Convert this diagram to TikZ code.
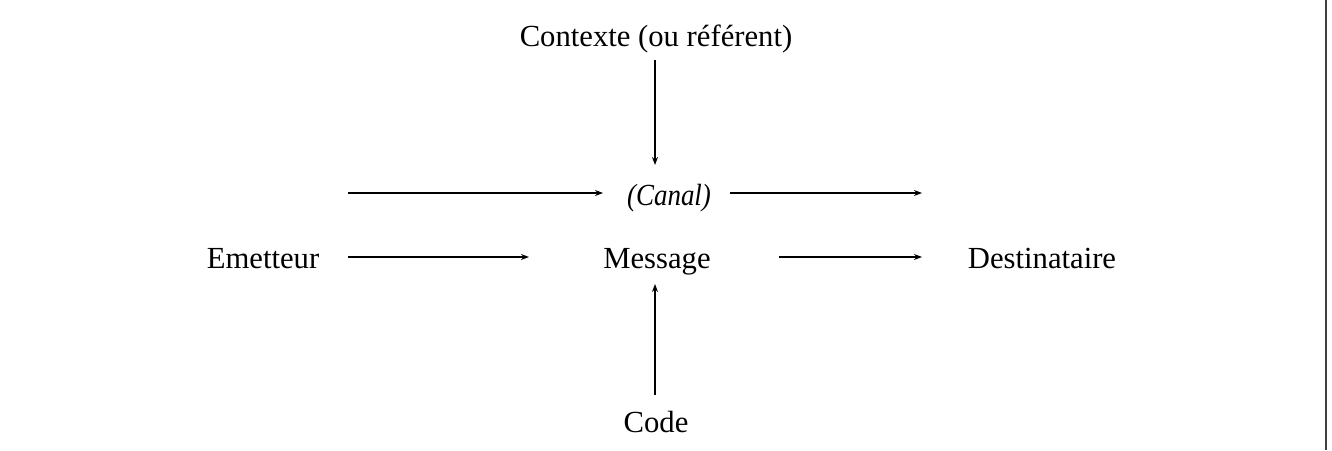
\documentclass[tikz,border=0pt]{standalone}
\usepackage{fontspec}
\setmainfont{Liberation Serif}
\usetikzlibrary{arrows.meta}
\begin{document}
\begin{tikzpicture}[x=0.75pt,y=-0.75pt,
  lbl/.style={font=\fontsize{23}{27}\selectfont, anchor=base, inner sep=0pt},
  arr/.style={line width=1.1pt, -{Stealth[length=6pt,width=4.5pt]}}]
\useasboundingbox (0,0) rectangle (1332,450);
\fill[white] (0,0) rectangle (1332,450);
\draw[line width=1.6pt, black!75] (1326,0) -- (1326,450);
\node[lbl] (ctx) at (656,46) {Contexte (ou référent)};
\node[lbl] (canal) at (669,205) {\itshape\scalebox{0.88}[1]{(Canal)}};
\node[lbl] (em) at (263,268) {Emetteur};
\node[lbl] (msg) at (657,268) {Message};
\node[lbl] (dest) at (1042,268) {Destinataire};
\node[lbl] (code) at (656,432) {Code};
\coordinate (c1) at (655,60);
\coordinate (c2) at (655,165);
\coordinate (t1) at (348,193);
\coordinate (t2) at (603,193);
\coordinate (t3) at (730,193);
\coordinate (t4) at (922,193);
\coordinate (m1) at (348,257);
\coordinate (m2) at (529,257);
\coordinate (m3) at (779,257);
\coordinate (m4) at (922,257);
\coordinate (k1) at (655,395);
\coordinate (k2) at (655,284);
\draw[arr] (c1) -- (c2);
\draw[arr] (t1) -- (t2);
\draw[arr] (t3) -- (t4);
\draw[arr] (m1) -- (m2);
\draw[arr] (m3) -- (m4);
\draw[arr] (k1) -- (k2);
\end{tikzpicture}
\end{document}
